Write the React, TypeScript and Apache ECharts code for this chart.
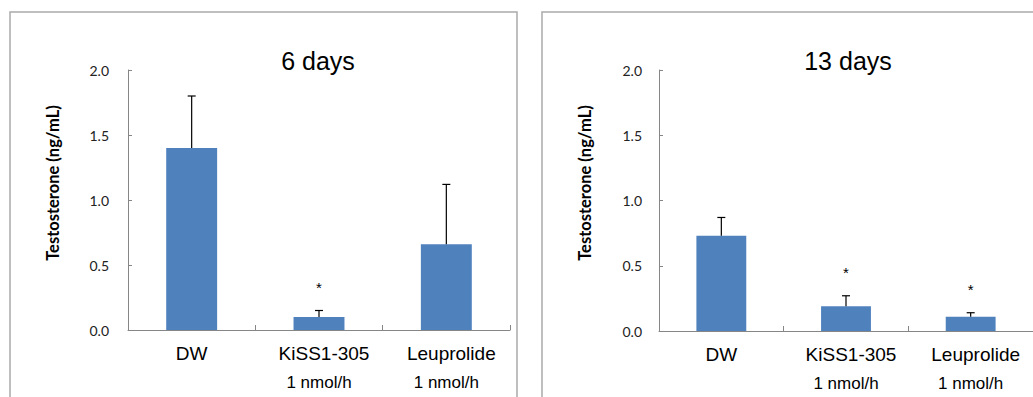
import React, { useEffect, useRef } from "react";
import * as echarts from "echarts";

// Treatment groups and their sub-labels
const categories = ["DW", "KiSS1-305", "Leuprolide"];
const doseLabels = ["", "1 nmol/h", "1 nmol/h"];

// Serum testosterone (ng/mL), mean and SE, after 6 days
const day6Means = [1.4, 0.1, 0.66];
const day6Errors = [0.4, 0.05, 0.46];
const day6Significant = [false, true, false];

// Serum testosterone (ng/mL), mean and SE, after 13 days
const day13Means = [0.73, 0.19, 0.11];
const day13Errors = [0.14, 0.08, 0.03];
const day13Significant = [false, true, true];

const yTicks = { min: 0, max: 2, interval: 0.5 };
const panelTitles = ["6 days", "13 days"];
const yAxisTitle = "Testosterone (ng/mL)";

const BAR_COLOR = "#4F81BD";
const AXIS_COLOR = "#868686";
const ARIAL = "'Liberation Sans', Arial, sans-serif";
const CALIBRI = "Lato, 'Open Sans', sans-serif";

function errorSeries(
  means: number[],
  errors: number[],
  sig: boolean[],
  axisIndex: number
) {
  return {
    type: "custom",
    xAxisIndex: axisIndex,
    yAxisIndex: axisIndex,
    z: 5,
    data: means.map((m, i) => [i, m, errors[i], sig[i] ? 1 : 0]),
    renderItem: (_params: any, api: any) => {
      const idx = api.value(0);
      const mean = api.value(1);
      const err = api.value(2);
      const base = api.coord([idx, mean]);
      const top = api.coord([idx, mean + err]);
      const children: any[] = [
        {
          type: "line",
          shape: { x1: base[0], y1: base[1], x2: top[0], y2: top[1] },
          style: { stroke: "#000", lineWidth: 1.2 },
        },
        {
          type: "line",
          shape: { x1: top[0] - 4, y1: top[1], x2: top[0] + 4, y2: top[1] },
          style: { stroke: "#000", lineWidth: 1.2 },
        },
      ];
      if (api.value(3)) {
        children.push({
          type: "text",
          x: top[0],
          y: top[1] - 23,
          style: {
            text: "*",
            fontSize: 15,
            fontFamily: ARIAL,
            fill: "#000",
            align: "center",
            verticalAlign: "middle",
          },
        });
      }
      return { type: "group", children };
    },
  };
}

function yAxisCfg(gridIndex: number, margin: number) {
  return {
    type: "value",
    gridIndex,
    min: yTicks.min,
    max: yTicks.max,
    interval: yTicks.interval,
    axisLine: { show: true, lineStyle: { color: AXIS_COLOR, width: 1 } },
    axisTick: { show: true, inside: true, length: 4, lineStyle: { color: AXIS_COLOR } },
    splitLine: { show: false },
    axisLabel: {
      margin,
      formatter: (v: number) => v.toFixed(1),
      fontFamily: CALIBRI,
      fontSize: 14,
      color: "#222",
    },
  };
}

function xAxisCfg(gridIndex: number) {
  return {
    type: "category",
    gridIndex,
    data: categories,
    axisLine: { show: true, lineStyle: { color: AXIS_COLOR, width: 1 } },
    axisTick: { show: true, inside: true, length: 5, lineStyle: { color: AXIS_COLOR } },
    axisLabel: {
      margin: 12,
      interval: 0,
      formatter: (v: string, i: number) =>
        doseLabels[i] ? `{shifted|${v}}\n{sub|${doseLabels[i]}}` : `{main|${v}}`,
      rich: {
        main: { fontFamily: ARIAL, fontSize: 19, lineHeight: 22, color: "#000" },
        shifted: {
          fontFamily: ARIAL,
          fontSize: 19,
          lineHeight: 22,
          color: "#000",
          padding: [0, 0, 0, 10],
        },
        sub: { fontFamily: ARIAL, fontSize: 17, lineHeight: 36, color: "#000" },
      },
    },
  };
}

export default function App() {
  const ref = useRef<HTMLDivElement>(null);

  useEffect(() => {
    if (!ref.current) return;
    const chart = echarts.init(ref.current, undefined, { renderer: "svg" });
    chart.setOption({
      animation: false,
      backgroundColor: "#fff",
      grid: [
        { left: 128, top: 70, width: 382, height: 260 },
        { left: 659, top: 70, width: 382, height: 261 },
      ],
      xAxis: [xAxisCfg(0), xAxisCfg(1)],
      yAxis: [yAxisCfg(0, 19), yAxisCfg(1, 17)],
      series: [
        {
          type: "bar",
          xAxisIndex: 0,
          yAxisIndex: 0,
          data: day6Means,
          barCategoryGap: "60%",
          itemStyle: { color: BAR_COLOR },
        },
        errorSeries(day6Means, day6Errors, day6Significant, 0),
        {
          type: "bar",
          xAxisIndex: 1,
          yAxisIndex: 1,
          data: day13Means,
          barCategoryGap: "60%",
          itemStyle: { color: BAR_COLOR },
        },
        errorSeries(day13Means, day13Errors, day13Significant, 1),
      ],
      graphic: [
        {
          type: "rect",
          shape: { x: 10, y: 12, width: 507, height: 500 },
          style: { fill: "none", stroke: "#ababab", lineWidth: 1.5 },
          silent: true,
        },
        {
          type: "rect",
          shape: { x: 542, y: 12, width: 600, height: 500 },
          style: { fill: "none", stroke: "#ababab", lineWidth: 1.5 },
          silent: true,
        },
        {
          type: "text",
          x: 318,
          y: 61,
          style: {
            text: panelTitles[0],
            fontFamily: ARIAL,
            fontSize: 25,
            fill: "#000",
            align: "center",
            verticalAlign: "middle",
          },
        },
        {
          type: "text",
          x: 848,
          y: 61,
          style: {
            text: panelTitles[1],
            fontFamily: ARIAL,
            fontSize: 25,
            fill: "#000",
            align: "center",
            verticalAlign: "middle",
          },
        },
        {
          type: "text",
          x: 53,
          y: 183,
          rotation: Math.PI / 2,
          style: {
            text: yAxisTitle,
            fontFamily: CALIBRI,
            fontWeight: "bold",
            fontSize: 16.5,
            fill: "#000",
            align: "center",
            verticalAlign: "middle",
          },
        },
        {
          type: "text",
          x: 585,
          y: 183,
          rotation: Math.PI / 2,
          style: {
            text: yAxisTitle,
            fontFamily: CALIBRI,
            fontWeight: "bold",
            fontSize: 16.5,
            fill: "#000",
            align: "center",
            verticalAlign: "middle",
          },
        },
      ],
    });
    return () => chart.dispose();
  }, []);

  return (
    <div
      ref={ref}
      style={{ position: "fixed", left: 0, top: 0, width: 1033, height: 397 }}
    />
  );
}
